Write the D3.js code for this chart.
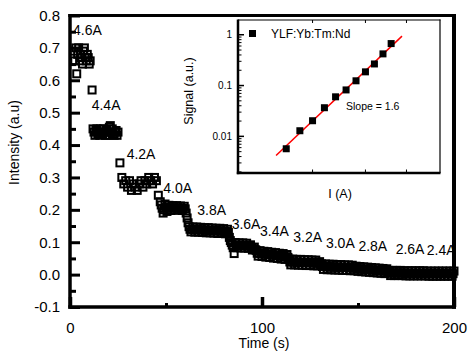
<!DOCTYPE html>
<html><head><meta charset="utf-8">
<script src="https://cdn.jsdelivr.net/npm/d3@7"></script>
<style>
body{margin:0;background:#fff}
svg{display:block}
text{font-family:"Liberation Sans",Arial,sans-serif;fill:#000}
</style>
</head><body>
<svg id="c" width="470" height="354"></svg>
<script>
// ---------- main chart data ----------
const time = [
 2,2.5,3,3.5,4,4.5,5,5.5,6,6.5,7,7.5,8,8.5,9,9.5,10,10.5,
 11.5,
 12,12.5,13,13.5,14,14.5,15,15.5,16,16.5,17,17.5,18,18.5,19,19.5,20,20.5,21,21.5,22,22.5,23,23.5,24,24.5,25,
 26,
 27,28,29,30,31,32,33,34,35,36,37,38,39,40,41,42,43,44,45,
 46,47,
 47.5,48,48.5,49,49.5,50,50.5,51,51.5,52,52.5,53,53.5,54,54.5,55,55.5,56,56.5,57,57.5,58,58.5,59,59.5,60,
 60.5,61,61.5,
 62,62.5,63,63.5,64,64.5,65,65.5,66,66.5,67,67.5,68,68.5,69,69.5,70,70.5,71,71.5,72,72.5,73,73.5,74,74.5,75,75.5,76,76.5,77,77.5,78,78.5,79,79.5,80,80.5,81,81.5,82,82.5,
 83,83.5,
 84,84.5,85,85.5,86,86.5,87,87.5,88,88.5,89,89.5,90,90.5,91,91.5,92,92.5,93,93.5,94,94.5,95,95.5,96,96.5,
 97,97.5,98,98.5,99,99.5,100,100.5,101,101.5,102,102.5,103,103.5,104,104.5,105,105.5,106,106.5,107,107.5,108,108.5,109,109.5,110,110.5,111,111.5,112,112.5,113,113.5,
 114,114.5,115,115.5,116,116.5,117,117.5,118,118.5,119,119.5,120,120.5,121,121.5,122,122.5,123,123.5,124,124.5,125,125.5,126,126.5,127,127.5,128,128.5,129,129.5,130,130.5,
 131,131.5,132,132.5,133,133.5,134,134.5,135,135.5,136,136.5,137,137.5,138,138.5,139,139.5,140,140.5,141,141.5,142,142.5,143,143.5,144,144.5,145,145.5,146,146.5,147,147.5,148,148.5,
 149,149.5,150,150.5,151,151.5,152,152.5,153,153.5,154,154.5,155,155.5,156,156.5,157,157.5,158,158.5,159,159.5,160,160.5,161,161.5,162,162.5,163,163.5,164,164.5,165,165.5,
 166,166.5,167,167.5,168,168.5,169,169.5,170,170.5,171,171.5,172,172.5,173,173.5,174,174.5,175,175.5,176,176.5,177,177.5,178,178.5,179,179.5,180,180.5,181,181.5,182,182.5,183,183.5,
 184,184.5,185,185.5,186,186.5,187,187.5,188,188.5,189,189.5,190,190.5,191,191.5,192,192.5,193,193.5,194,194.5,195,195.5,196,196.5,197,197.5,198,198.5,199,199.5,200
];
const intensity = [
 0.69,0.66,0.70,0.62,0.68,0.70,0.66,0.68,0.67,0.65,0.69,0.70,0.67,0.66,0.68,0.67,0.65,0.66,
 0.57,
 0.45,0.44,0.43,0.445,0.45,0.435,0.44,0.43,0.45,0.44,0.435,0.45,0.44,0.43,0.445,0.44,0.43,0.455,0.46,0.44,0.45,0.435,0.43,0.44,0.445,0.43,0.44,
 0.345,
 0.30,0.28,0.29,0.27,0.29,0.26,0.28,0.27,0.26,0.28,0.29,0.27,0.29,0.28,0.30,0.29,0.28,0.30,0.29,
 0.245,0.225,
 0.215,0.205,0.19,0.2,0.218,0.207,0.195,0.205,0.214,0.206,0.198,0.206,0.213,0.206,0.199,0.206,0.213,0.206,0.199,0.205,0.212,0.205,0.198,0.204,0.211,0.203,
 0.19,0.175,0.16,
 0.148,0.14,0.132,0.14, 0.147,0.139,0.131,0.139, 0.147,0.139,0.131,0.138, 0.146,0.138,0.13,0.138, 0.145,0.137,0.129,0.137,
 0.145,0.137,0.129,0.136, 0.144,0.136,0.128,0.136, 0.143,0.135,0.127,0.135, 0.143,0.135,0.127,0.134, 0.142,0.134,0.126,0.133, 0.14,0.13,
 0.115,0.105,
 0.099,0.091,0.083,0.065, 0.099,0.091,0.083,0.091, 0.098,0.09,0.082,0.09, 0.098,0.09,0.082,0.089, 0.097,0.089,0.081,0.088, 0.092,0.084,0.076,0.08, 0.085,0.077,
 0.075,0.066,0.057,0.066, 0.074,0.065,0.056,0.065, 0.072,0.063,0.054,0.063, 0.071,0.062,0.053,0.062, 0.069,0.06,0.051,0.06,
 0.068,0.059,0.05,0.059, 0.066,0.057,0.048,0.057, 0.065,0.056,0.047,0.055, 0.062,0.053,
 0.048,0.039,0.03,0.039, 0.048,0.039,0.03,0.039, 0.047,0.038,0.029,0.038, 0.047,0.038,0.029,0.038, 0.046,0.037,0.028,0.037,
 0.046,0.037,0.028,0.037, 0.045,0.036,0.027,0.036, 0.045,0.036,0.027,0.035, 0.04,0.032,
 0.033,0.025,0.016,0.025, 0.033,0.024,0.015,0.024, 0.032,0.024,0.015,0.024, 0.032,0.023,0.014,0.023, 0.031,0.023,0.014,0.023,
 0.031,0.022,0.013,0.022, 0.03,0.022,0.013,0.022, 0.03,0.021,0.012,0.021, 0.029,0.021,0.012,0.02,
 0.026,0.018,0.01,0.018, 0.025,0.017,0.009,0.017, 0.024,0.016,0.008,0.016, 0.023,0.015,0.007,0.015, 0.022,0.014,0.006,0.014,
 0.021,0.013,0.005,0.013, 0.02,0.012,0.004,0.012, 0.019,0.011,0.003,0.011, 0.018,0.01,
 0.013,0.005,-0.003,0.005, 0.013,0.005,-0.003,0.005, 0.013,0.005,-0.003,0.005, 0.013,0.005,-0.003,0.005,
 0.012,0.004,-0.004,0.004, 0.012,0.004,-0.004,0.004, 0.012,0.004,-0.004,0.004, 0.012,0.004,-0.004,0.004, 0.012,0.004,-0.004,0.004, 0.012,0.004,-0.004,0.004,
 0.011,0.003,-0.005,0.003, 0.011,0.003,-0.005,0.003, 0.011,0.003,-0.005,0.003, 0.011,0.003,-0.005,0.003, 0.011,0.003,-0.005,0.003, 0.011,0.003,-0.005,0.003, 0.011,0.003,-0.005,0.003,
 0.011
];
const stepLabels = ["4.6A","4.4A","4.2A","4.0A","3.8A","3.6A","3.4A","3.2A","3.0A","2.8A","2.6A","2.4A"];
const stepLabelTime = [1.6,11.3,29.5,48.6,66.3,84.2,99,116.3,133.3,150.2,169.6,185.8];
const stepLabelValue = [0.740,0.508,0.356,0.253,0.184,0.140,0.119,0.102,0.081,0.073,0.0636,0.0605];
const xTicks = [0,100,200];
const xMinorTicks = [50,150];
const yTicks = [-0.1,0.0,0.1,0.2,0.3,0.4,0.5,0.6,0.7,0.8];
const yMinorTicks = [-0.05,0.05,0.15,0.25,0.35,0.45,0.55,0.65,0.75];
const xTitle = "Time (s)";
const yTitle = "Intensity (a.u)";

// ---------- inset data ----------
const insetCurrent = [2.6,2.8,3.0,3.2,3.4,3.6,3.8,4.0,4.2,4.4,4.6];
const insetSignal = [0.0057,0.0129,0.0203,0.0366,0.060,0.082,0.124,0.186,0.266,0.42,0.67];
const fitCurrent = [2.46,4.88];
const fitSignal = [0.0042,0.94];
const insetYTicks = [0.01,0.1,1];
const insetYTickLabels = ["0.01","0.1","1"];
const insetXTicks = [3,4,5];
const insetXTitle = "I (A)";
const insetYTitle = "Signal (a.u.)";
const legendLabel = "YLF:Yb:Tm:Nd";
const slopeLabel = "Slope = 1.6";

// ---------- main chart ----------
const svg = d3.select("#c");
const x = d3.scaleLinear().domain([0,200]).range([70,454]);
const y = d3.scaleLinear().domain([-0.1,0.8]).range([307,15.5]);

svg.append("defs").append("clipPath").attr("id","plotclip")
  .append("rect").attr("x",70).attr("y",10).attr("width",384).attr("height",297);

const pts = time.map((t,i)=>({t:t, v:intensity[i]}));
svg.append("g").selectAll("rect").data(pts).join("rect")
  .attr("x",d=>x(d.t)-3.5).attr("y",d=>y(d.v)-3.5)
  .attr("width",7).attr("height",7)
  .attr("fill","none").attr("stroke","#000").attr("stroke-width",2);

svg.append("g").attr("clip-path","url(#plotclip)")
  .selectAll("text").data(stepLabels).join("text")
  .attr("x",(d,i)=>x(stepLabelTime[i])).attr("y",(d,i)=>y(stepLabelValue[i]))
  .attr("font-size",14).attr("fill","#111").text(d=>d);

// y axis
const yAx = svg.append("g").attr("transform","translate(70,0)")
  .call(d3.axisLeft(y).tickValues(yTicks).tickSize(-10).tickSizeOuter(0).tickPadding(10)
        .tickFormat(d=>d.toFixed(1)));
yAx.select(".domain").remove();
yAx.attr("font-size",15).attr("font-family","'Liberation Sans',Arial,sans-serif");
yAx.selectAll(".tick line").attr("stroke","#000").attr("stroke-width",3);
yAx.selectAll(".tick text").attr("fill","#111");
const yMin = svg.append("g").attr("transform","translate(70,0)")
  .call(d3.axisLeft(y).tickValues(yMinorTicks).tickSize(-6).tickSizeOuter(0).tickFormat(""));
yMin.select(".domain").remove();
yMin.selectAll(".tick line").attr("stroke","#000").attr("stroke-width",3);

// x axis
const xAx = svg.append("g").attr("transform","translate(0,307)")
  .call(d3.axisBottom(x).tickValues(xTicks).tickSize(-10).tickSizeOuter(0).tickPadding(15)
        .tickFormat(d3.format("d")));
xAx.select(".domain").remove();
xAx.attr("font-size",15).attr("font-family","'Liberation Sans',Arial,sans-serif");
xAx.selectAll(".tick line").attr("stroke","#000").attr("stroke-width",3.5);
xAx.selectAll(".tick text").attr("fill","#111");
const xMin = svg.append("g").attr("transform","translate(0,307)")
  .call(d3.axisBottom(x).tickValues(xMinorTicks).tickSize(-4).tickSizeOuter(0).tickFormat(""));
xMin.select(".domain").remove();
xMin.selectAll(".tick line").attr("stroke","#000").attr("stroke-width",3);

// frame
const frame = svg.append("g").attr("stroke","#000");
frame.append("line").attr("x1",70).attr("x2",70).attr("y1",14).attr("y2",308.8).attr("stroke-width",3.5);
frame.append("line").attr("x1",68.3).attr("x2",456).attr("y1",307).attr("y2",307).attr("stroke-width",3.5);
frame.append("line").attr("x1",68.3).attr("x2",456).attr("y1",15.5).attr("y2",15.5).attr("stroke-width",3);
frame.append("line").attr("x1",454).attr("x2",454).attr("y1",14).attr("y2",308.8).attr("stroke-width",4);

svg.append("text").attr("x",264).attr("y",348).attr("text-anchor","middle")
  .attr("font-size",14).attr("fill","#111").text(xTitle);
svg.append("text").attr("transform","translate(19,142.5) rotate(-90)").attr("text-anchor","middle")
  .attr("font-size",14).attr("fill","#111").text(yTitle);

// ---------- inset ----------
const ix = d3.scaleLog().domain([2,6]).range([238,440]);
const iy = d3.scaleLog().domain([0.0019,1.95]).range([173,20]);
const inset = svg.append("g");
inset.append("rect").attr("x",238).attr("y",20).attr("width",202).attr("height",153).attr("fill","#fff");

const iyMinor = iy.ticks().filter(v=>!insetYTicks.some(m=>Math.abs(m-v)<1e-9));
inset.append("g").selectAll("line").data(iyMinor).join("line")
  .attr("x1",238).attr("x2",241.5).attr("y1",d=>iy(d)).attr("y2",d=>iy(d))
  .attr("stroke","#000").attr("stroke-width",1);
inset.append("g").selectAll("line").data(insetYTicks).join("line")
  .attr("x1",238).attr("x2",244).attr("y1",d=>iy(d)).attr("y2",d=>iy(d))
  .attr("stroke","#000").attr("stroke-width",1.5);
inset.append("g").selectAll("text").data(insetYTicks).join("text")
  .attr("x",232).attr("y",d=>iy(d)).attr("dy","0.35em").attr("text-anchor","end")
  .attr("font-size",10).attr("fill","#111").text((d,i)=>insetYTickLabels[i]);

inset.append("g").selectAll("line").data(insetXTicks).join("line")
  .attr("x1",d=>ix(d)).attr("x2",d=>ix(d)).attr("y1",173).attr("y2",169.5)
  .attr("stroke","#000").attr("stroke-width",1);
inset.append("g").selectAll("line").data(insetXTicks).join("line")
  .attr("x1",d=>ix(d)).attr("x2",d=>ix(d)).attr("y1",20).attr("y2",23)
  .attr("stroke","#000").attr("stroke-width",1);

const fit = fitCurrent.map((c,i)=>[c,fitSignal[i]]);
inset.append("path").attr("d",d3.line().x(d=>ix(d[0])).y(d=>iy(d[1]))(fit))
  .attr("fill","none").attr("stroke","#ff0000").attr("stroke-width",1.5);

inset.append("g").selectAll("rect").data(insetCurrent).join("rect")
  .attr("x",d=>ix(d)-3.5).attr("y",(d,i)=>iy(insetSignal[i])-3.5)
  .attr("width",7).attr("height",7).attr("fill","#000");

inset.append("line").attr("x1",238).attr("x2",440.5).attr("y1",20).attr("y2",20).attr("stroke","#000").attr("stroke-width",1.2);
inset.append("line").attr("x1",440).attr("x2",440).attr("y1",19.5).attr("y2",173).attr("stroke","#000").attr("stroke-width",1.2);
inset.append("line").attr("x1",238).attr("x2",238).attr("y1",19.5).attr("y2",174.2).attr("stroke","#000").attr("stroke-width",2.5);
inset.append("line").attr("x1",236.8).attr("x2",440.5).attr("y1",173).attr("y2",173).attr("stroke","#000").attr("stroke-width",2.5);

inset.append("rect").attr("x",249).attr("y",30).attr("width",7).attr("height",7).attr("fill","#000");
inset.append("text").attr("x",271).attr("y",38).attr("font-size",12).attr("fill","#111").text(legendLabel);
inset.append("text").attr("x",346).attr("y",110).attr("font-size",10.5).attr("fill","#111").text(slopeLabel);
inset.append("text").attr("x",340).attr("y",198).attr("text-anchor","middle").attr("font-size",12.5).attr("fill","#111").text(insetXTitle);
inset.append("text").attr("transform","translate(192.5,91) rotate(-90)").attr("text-anchor","middle")
  .attr("font-size",12.5).attr("fill","#111").text(insetYTitle);
</script>
</body></html>
